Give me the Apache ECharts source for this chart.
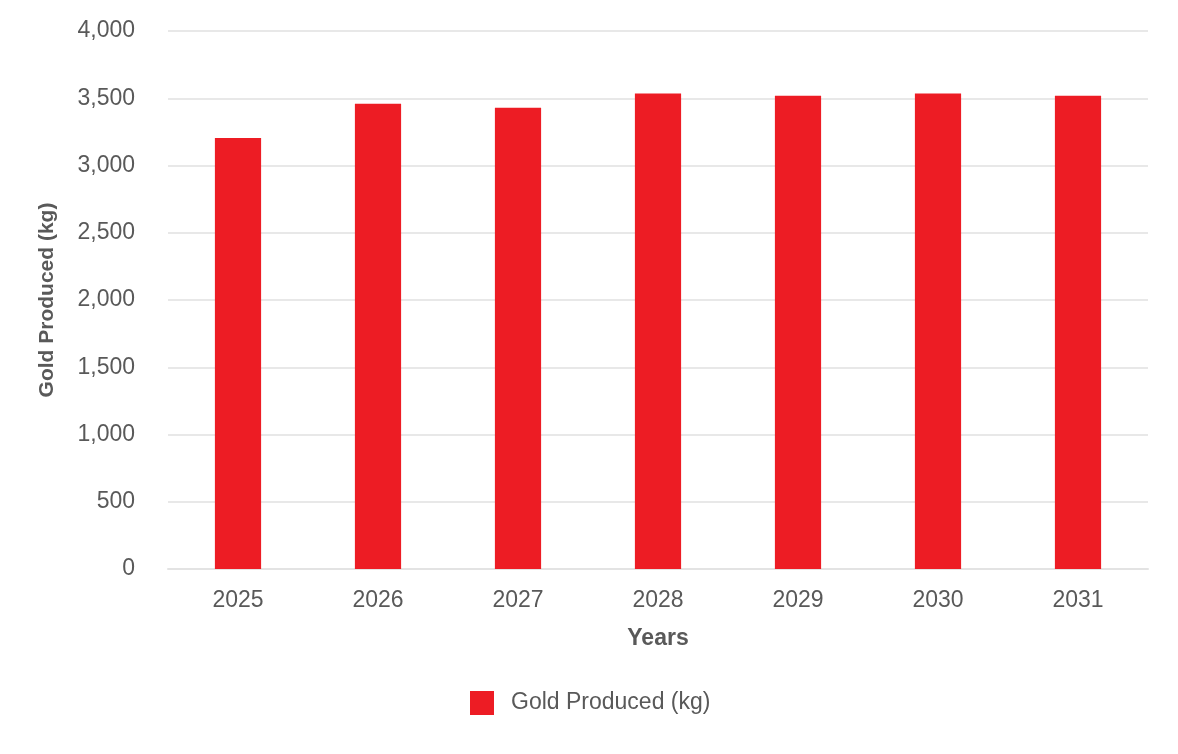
<!DOCTYPE html>
<html>
<head>
<meta charset="utf-8">
<script src="https://cdn.jsdelivr.net/npm/echarts@6/dist/echarts.min.js"></script>
<style>
  html, body { margin: 0; padding: 0; background: #fff; }
  #chart { width: 1178px; height: 754px; }
</style>
</head>
<body>
<div id="chart"></div>
<script>
const years = ['2025', '2026', '2027', '2028', '2029', '2030', '2031'];
const goldProduced = [3205, 3460, 3430, 3535, 3518, 3535, 3518];
const yTicks = [0, 500, 1000, 1500, 2000, 2500, 3000, 3500, 4000];

const font = '"Liberation Sans", Arial, sans-serif';
const chart = echarts.init(document.getElementById('chart'), null, { renderer: 'canvas' });

chart.setOption({
    animation: false,
    textStyle: { fontFamily: font },
    grid: { left: 168, right: 30, top: 31, bottom: 185 },
    legend: {
        bottom: 34,
        left: 465,
        itemWidth: 24,
        itemHeight: 24,
        icon: 'rect',
        textStyle: { fontSize: 23, color: '#595959', fontFamily: font, padding: [0, 0, 0, 12] },
        data: ['Gold Produced (kg)']
    },
    xAxis: {
        type: 'category',
        data: years,
        name: 'Years',
        nameLocation: 'middle',
        nameGap: 58,
        nameTextStyle: { fontSize: 23, fontWeight: 'bold', color: '#595959', fontFamily: font },
        axisLine: { lineStyle: { color: '#e3e3e3', width: 2 } },
        axisTick: { show: false },
        axisLabel: { fontSize: 23, color: '#595959', margin: 20, fontFamily: font }
    },
    yAxis: {
        type: 'value',
        min: yTicks[0],
        max: yTicks[yTicks.length - 1],
        interval: 500,
        name: 'Gold Produced (kg)',
        nameLocation: 'middle',
        nameGap: 110,
        nameTextStyle: { fontSize: 21, fontWeight: 'bold', color: '#595959', fontFamily: font },
        axisLine: { show: false },
        axisTick: { show: false },
        axisLabel: {
            fontSize: 23, color: '#595959', margin: 33, fontFamily: font,
            formatter: v => v.toLocaleString('en-US')
        },
        splitLine: { lineStyle: { color: '#e8e8e8', width: 2 } }
    },
    series: [{
        name: 'Gold Produced (kg)',
        type: 'bar',
        data: goldProduced,
        barWidth: '33%',
        itemStyle: { color: '#ed1c24' }
    }]
});
</script>
</body>
</html>
